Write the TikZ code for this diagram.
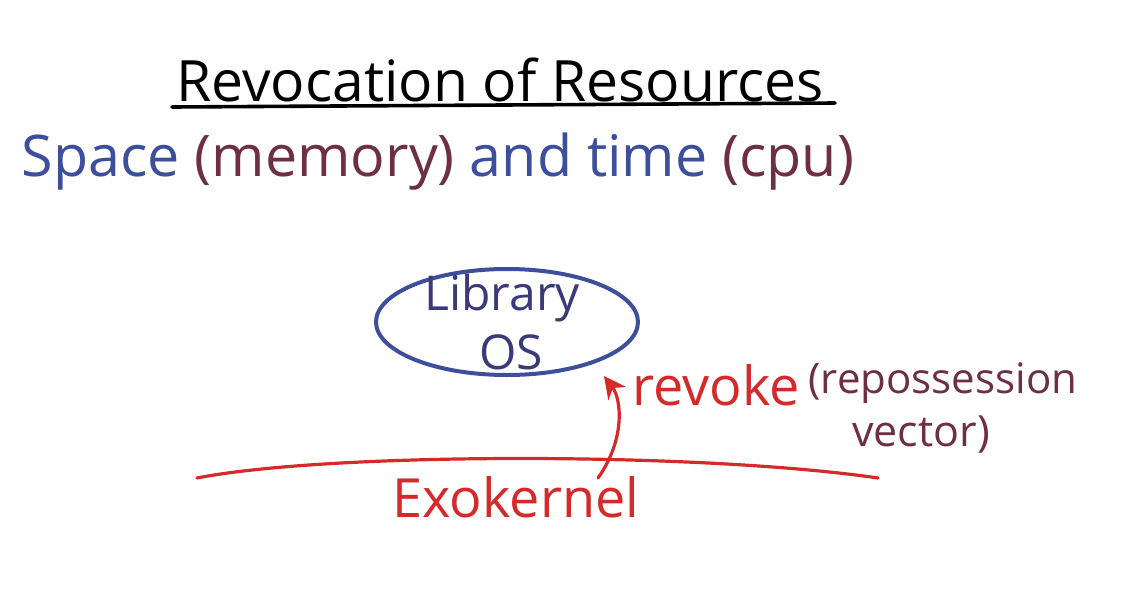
\documentclass[tikz,border=0pt]{standalone}
\usepackage{fontspec}
\setmainfont{Open Sans}
\usetikzlibrary{arrows.meta,shapes.geometric,positioning}
\definecolor{inkblue}{HTML}{3C4E9C}
\definecolor{inknavy}{HTML}{3A3A78}
\definecolor{inkred}{HTML}{D42A2A}
\definecolor{inkwine}{HTML}{6E2F42}
\tikzset{
hand/.style={inner sep=0pt,anchor=center},
osbubble/.style={ellipse,draw=inkblue,line width=2pt,minimum width=131pt,minimum height=53pt,inner sep=0pt},
kernline/.style={draw=inkred,line width=1.6pt,line cap=round},
revarr/.style={draw=inkred,line width=1.6pt,line cap=round,-{Stealth[length=11pt,width=11pt]}}
}

\begin{document}
\begin{tikzpicture}[x=0.5pt,y=-0.5pt]
\useasboundingbox (0,0) rectangle (1132,590);
% heading
\node[hand,font=\fontsize{28.5}{32}\selectfont] (title) at (500,80) {Revocation of Resources};
\draw[line width=1.8pt,line cap=round] (172,107) -- (835,103);
\node[hand,font=\fontsize{28.7}{34}\selectfont] (sub) at (438,162) {\textcolor{inkblue}{Space} \textcolor{inkwine}{(memory)} \textcolor{inkblue}{and time} \textcolor{inkwine}{(cpu)}};
% library os on top of exokernel
\node[osbubble] (libos) at (507,322) {};
\node[hand,text=inknavy,font=\fontsize{24}{28}\selectfont] (lib) at (502,298) {Library};
\node[hand,text=inknavy,font=\fontsize{24}{28}\selectfont] (os) at (511,352) {OS};
\node[hand,text=inkred,font=\fontsize{27}{32}\selectfont] (rev) at (716,385) {revoke};
\node[hand,text=inkwine,font=\fontsize{21}{26}\selectfont,anchor=west] (repo) at (808,383) {(repossession};
\node[hand,text=inkwine,font=\fontsize{21.5}{26}\selectfont] (vec) at (921,435) {vector)};
\node[hand,text=inkred,font=\fontsize{27}{32}\selectfont] (exo) at (516,497) {Exokernel};
\draw[kernline] (197,478) .. controls (330,452) and (700,452) .. (878,478);
\coordinate (tail) at (598,478);
\coordinate (tip) at (604,376);
\draw[revarr] (tail) .. controls (625,440) and (622,400) .. (tip);
\end{tikzpicture}
\end{document}
